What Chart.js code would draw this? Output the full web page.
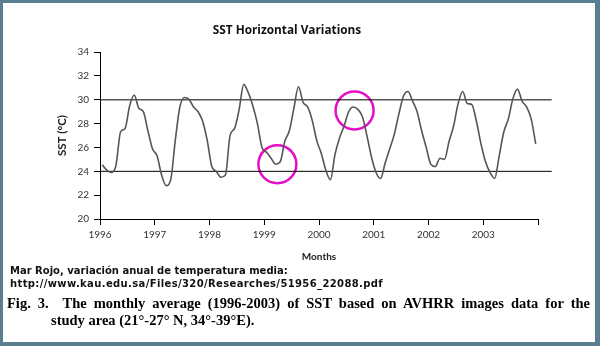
<!DOCTYPE html>
<html lang="en">
<head>
    <meta charset="UTF-8">
    <title>SST Horizontal Variations</title>
    <script src="https://cdn.jsdelivr.net/npm/chart.js"></script>
    <style>
        html, body {
            margin: 0;
            padding: 0;
            width: 600px;
            height: 346px;
            overflow: hidden;
            background: #5a7e8f;
        }
        .panel {
            position: absolute;
            left: 3px;
            top: 3px;
            width: 592px;
            height: 339px;
            background: #fff;
        }
        .chart-box {
            position: absolute;
            left: 0;
            top: 0;
            width: 600px;
            height: 270px;
        }
        .source {
            position: absolute;
            left: 10px;
            font-family: "DejaVu Sans", Verdana, sans-serif;
            font-weight: bold;
            font-size: 10px;
            color: #111;
            white-space: nowrap;
        }
        .caption {
            position: absolute;
            left: 7px;
            width: 583px;
            font-family: "Liberation Serif", "Times New Roman", serif;
            font-weight: bold;
            font-size: 14.5px;
            line-height: 17px;
            color: #000;
            white-space: nowrap;
        }
        .caption.first {
            text-align: justify;
            text-align-last: justify;
        }
    </style>
</head>
<body>
    <div class="panel"></div>
    <div class="chart-box"><canvas id="sstChart" width="600" height="270"></canvas></div>

    <div class="source" style="top:265px">Mar Rojo, variación anual de temperatura media:</div>
    <div class="source" style="top:278px; letter-spacing:0.37px">http://www.kau.edu.sa/Files/320/Researches/51956_22088.pdf</div>
    <div class="caption first" style="top:295px; white-space:normal">Fig. 3.&nbsp; The monthly average (1996-2003) of SST based on AVHRR images data for the</div>
    <div class="caption" style="top:312px; left:51px; width:auto">study area (21°-27° N, 34°-39°E).</div>

    <script>
        // monthly SST (°C), Jan..Dec
        const years = [1996, 1997, 1998, 1999, 2000, 2001, 2002, 2003];
        const sst1996 = [24.55, 24.1, 23.9, 24.5, 27.3, 27.6, 29.5, 30.4, 29.3, 29.0, 27.4, 25.9];
        const sst1997 = [25.3, 23.7, 22.8, 23.3, 26.6, 29.4, 30.2, 30.05, 29.4, 29.0, 28.2, 26.6];
        const sst1998 = [24.4, 24.0, 23.5, 23.7, 27.0, 27.6, 29.2, 31.3, 30.6, 29.5, 28.0, 26.0];
        const sst1999 = [25.6, 25.1, 24.6, 24.8, 26.5, 27.4, 29.3, 31.1, 29.8, 29.4, 28.3, 26.6];
        const sst2000 = [25.5, 24.1, 23.3, 25.4, 26.8, 27.8, 29.0, 29.4, 29.2, 28.6, 27.0, 25.2];
        const sst2001 = [23.9, 23.4, 24.7, 25.9, 27.1, 28.8, 30.3, 30.7, 29.9, 29.0, 27.4, 26.0];
        const sst2002 = [24.6, 24.4, 25.1, 25.0, 26.5, 27.8, 29.7, 30.7, 29.7, 29.6, 28.2, 26.3];
        const sst2003 = [24.8, 23.9, 23.4, 25.3, 27.3, 28.4, 30.1, 30.9, 29.9, 29.4, 28.4, 26.3];
        const sstByYear = [sst1996, sst1997, sst1998, sst1999, sst2000, sst2001, sst2002, sst2003];

        // reference levels drawn across the plot
        const upperLevel = 30;
        const lowerLevel = 24;
        const lineStart = 1996;
        const lineEnd = 2004.25;

        // highlighted spots (x = year fraction, y = SST)
        const markX = [1999.24, 2000.65];
        const markY = [24.6, 29.1];

        const yTicks = { min: 20, max: 34, step: 2 };

        // build x/y points: mid-month position
        const sstPoints = [];
        years.forEach((yr, i) => {
            sstByYear[i].forEach((v, m) => {
                sstPoints.push({ x: yr + (m + 0.5) / 12, y: v });
            });
        });
        const markPoints = markX.map((x, i) => ({ x: x, y: markY[i] }));

        const tickFont = { family: 'Lato, "Open Sans", sans-serif', size: 10 };

        new Chart(document.getElementById('sstChart'), {
            type: 'line',
            data: {
                datasets: [
                    {
                        label: 'SST',
                        data: sstPoints,
                        borderColor: '#555',
                        borderWidth: 1.6,
                        pointRadius: 0,
                        tension: 0.4,
                        cubicInterpolationMode: 'monotone',
                        fill: false
                    },
                    {
                        label: '30',
                        data: [{ x: lineStart, y: upperLevel }, { x: lineEnd, y: upperLevel }],
                        borderColor: '#000',
                        borderWidth: 1,
                        pointRadius: 0,
                        clip: false
                    },
                    {
                        label: '24',
                        data: [{ x: lineStart, y: lowerLevel }, { x: lineEnd, y: lowerLevel }],
                        borderColor: '#000',
                        borderWidth: 1,
                        pointRadius: 0,
                        clip: false
                    },
                    {
                        label: 'marks',
                        data: markPoints,
                        showLine: false,
                        pointStyle: 'circle',
                        pointRadius: 19,
                        pointBorderWidth: 2.5,
                        pointBorderColor: '#e60fc8',
                        pointBackgroundColor: 'rgba(0,0,0,0)',
                        clip: false
                    }
                ]
            },
            options: {
                responsive: false,
                animation: false,
                layout: { padding: { left: 36, right: 62, top: 0, bottom: 0 } },
                plugins: {
                    legend: { display: false },
                    tooltip: { enabled: false },
                    title: {
                        display: true,
                        text: 'SST Horizontal Variations',
                        color: '#111',
                        font: { family: '"Open Sans", Lato, sans-serif', size: 11.8, weight: 'bold' },
                        padding: { top: 24, bottom: 14 }
                    }
                },
                scales: {
                    x: {
                        type: 'linear',
                        min: years[0],
                        max: years[years.length - 1] + 1,
                        afterFit: s => { s.height = 51; },
                        border: { display: true, color: '#000', width: 1 },
                        grid: { drawOnChartArea: false, color: '#000', tickLength: 6 },
                        ticks: {
                            stepSize: 1,
                            color: '#333',
                            font: tickFont,
                            padding: 4,
                            maxRotation: 0,
                            callback: v => (v <= years[years.length - 1] ? String(v) : '')
                        },
                        title: {
                            display: true,
                            text: 'Months',
                            color: '#222',
                            font: { family: 'Lato, "Open Sans", sans-serif', size: 10, weight: 'bold' },
                            padding: { top: 0, bottom: 7 }
                        }
                    },
                    y: {
                        min: yTicks.min,
                        max: yTicks.max,
                        afterFit: s => { s.width = 64; },
                        border: { display: true, color: '#000', width: 1 },
                        grid: { drawOnChartArea: false, color: '#000', tickLength: 6 },
                        ticks: {
                            stepSize: yTicks.step,
                            color: '#333',
                            font: tickFont,
                            padding: 5
                        },
                        title: {
                            display: true,
                            text: 'SST (°C)',
                            color: '#222',
                            font: { family: 'Lato, "Open Sans", sans-serif', size: 11.5, weight: 'bold' },
                            padding: { top: 19, bottom: 0 }
                        }
                    }
                }
            }
        });
    </script>
</body>
</html>
